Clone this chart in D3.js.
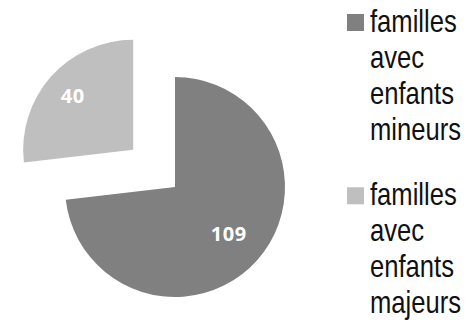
<!DOCTYPE html>
<meta charset="utf-8">
<script src="https://d3js.org/d3.v7.min.js"></script>
<style>
  body { margin: 0; background: #fff; }
</style>
<div id="chart"></div>
<script>
  // data
  const categories = ["familles avec enfants mineurs", "familles avec enfants majeurs"];
  const values = [109, 40];
  const colors = ["#808080", "#bfbfbf"];
  const legendLines = [["familles", "avec", "enfants", "mineurs"], ["familles", "avec", "enfants", "majeurs"]];

  const width = 471, height = 323;
  const cx = 175, cy = 187, radius = 110;
  const explode = [0, 56];       // how far each slice is pulled out
  const labelRadius = [72, 81];

  var svg = d3.select("#chart").append("svg")
    .attr("width", width)
    .attr("height", height);

  var pie = d3.pie().sort(null).value(function (d) { return d; });
  var arc = d3.arc().innerRadius(0).outerRadius(radius);
  var arcs = pie(values);

  var g = svg.append("g").attr("transform", "translate(" + cx + "," + cy + ")");

  var slice = g.selectAll(".slice")
    .data(arcs)
    .enter().append("g")
    .attr("class", "slice")
    .attr("transform", function (d, i) {
      var a = (d.startAngle + d.endAngle) / 2;
      return "translate(" + (Math.sin(a) * explode[i]) + "," + (-Math.cos(a) * explode[i]) + ")";
    });

  slice.append("path")
    .attr("d", arc)
    .attr("fill", function (d, i) { return colors[i]; });

  slice.append("text")
    .attr("transform", function (d, i) {
      var a = (d.startAngle + d.endAngle) / 2;
      return "translate(" + (Math.sin(a) * labelRadius[i]) + "," + (-Math.cos(a) * labelRadius[i]) + ")";
    })
    .attr("text-anchor", "middle")
    .attr("dy", "0.33em")
    .attr("fill", "#fff")
    .style("font-family", "'Open Sans', sans-serif")
    .style("font-weight", "bold")
    .style("font-size", "20px")
    .style("letter-spacing", "0.6px")
    .text(function (d) { return d.data; });

  // legend (text is a condensed sans, so squeeze it horizontally)
  var legend = svg.append("g").selectAll(".legend")
    .data(categories)
    .enter().append("g")
    .attr("class", "legend")
    .attr("transform", function (d, i) { return "translate(347," + (14 + i * 173.3) + ")"; });

  legend.append("rect")
    .attr("width", 17)
    .attr("height", 17)
    .attr("fill", function (d, i) { return colors[i]; });

  legend.append("text")
    .attr("transform", "translate(23,17.7) scale(0.8,1)")
    .attr("fill", "#111")
    .style("font-family", "'Liberation Sans', Arial, sans-serif")
    .style("font-size", "32px")
    .selectAll("tspan")
    .data(function (d, i) { return legendLines[i]; })
    .enter().append("tspan")
    .attr("x", 0)
    .attr("dy", function (d, j) { return j ? 36.1 : 0; })
    .text(function (d) { return d; });
</script>
